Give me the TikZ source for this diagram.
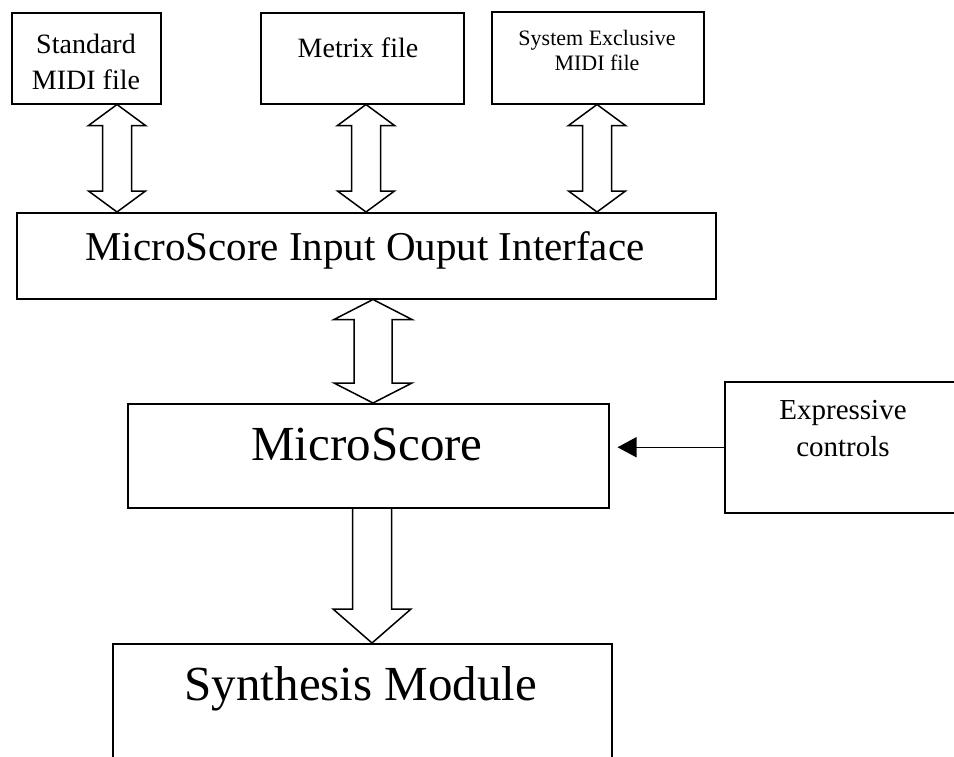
\documentclass[tikz,border=0pt]{standalone}
\usepackage{fontspec}
\setmainfont{Liberation Serif}
\usetikzlibrary{calc,arrows.meta}

% hollow two-headed block arrow between the bottom of #1 and the top of #2
% #3 x position, #4 head half width, #5 shaft half width, #6 head length
\newcommand\dblarrow[6]{%
  \draw[hollow] let \p1=(#3,0 |- #1.south), \p2=(#3,0 |- #2.north) in
    (\x1,\y1) -- ($(\x1,\y1)+(#4,#6)$) -- ($(\x1,\y1)+(#5,#6)$)
    -- ($(\x2,\y2)+(#5,-#6)$) -- ($(\x2,\y2)+(#4,-#6)$) -- (\x2,\y2)
    -- ($(\x2,\y2)+(-#4,-#6)$) -- ($(\x2,\y2)+(-#5,-#6)$)
    -- ($(\x1,\y1)+(-#5,#6)$) -- ($(\x1,\y1)+(-#4,#6)$) -- cycle;}

\begin{document}
\begin{tikzpicture}[x=1pt,y=-1pt,
  box/.style={draw, line width=1.5pt, inner sep=0pt, anchor=north west},
  lbl/.style={anchor=base, inner sep=0pt},
  hollow/.style={draw, line width=1.5pt, line join=miter}]
\useasboundingbox (0,0) rectangle (954,756);
\clip (0,0) rectangle (954,756);

% file boxes
\node[box, minimum width=149pt, minimum height=91pt] (std) at (11,12) {};
\node[box, minimum width=203pt, minimum height=91pt] (met) at (260,12) {};
\node[box, minimum width=212pt, minimum height=92pt] (sysx) at (491,11) {};
% interface, core and synthesis boxes
\node[box, minimum width=699pt, minimum height=86pt] (io) at (16,212) {};
\node[box, minimum width=481pt, minimum height=104pt] (ms) at (127,403) {};
\node[box, minimum width=240pt, minimum height=131pt] (exp) at (724,381) {};
\node[box, minimum width=499pt, minimum height=140pt] (syn) at (112,643) {};

% labels
\node[lbl, font=\fontsize{28}{33}\selectfont] (stdA) at (86,53) {Standard};
\node[lbl, font=\fontsize{28}{33}\selectfont] (stdB) at (86,89) {MIDI file};
\node[lbl, font=\fontsize{28}{33}\selectfont] (metA) at (358,57) {Metrix file};
\node[lbl, font=\fontsize{22}{26}\selectfont] (sysA) at (597,45) {System Exclusive};
\node[lbl, font=\fontsize{22}{26}\selectfont] (sysB) at (597,70) {MIDI file};
\node[lbl, font=\fontsize{41}{48}\selectfont] (ioA) at (365,260) {MicroScore Input Ouput Interface};
\node[lbl, font=\fontsize{49}{58}\selectfont] (msA) at (367,460) {MicroScore};
\node[lbl, font=\fontsize{29}{34}\selectfont] (expA) at (843,419) {Expressive};
\node[lbl, font=\fontsize{29}{34}\selectfont] (expB) at (843,456) {controls};
\node[lbl, font=\fontsize{49}{58}\selectfont] (synA) at (361,700) {Synthesis Module};

% two-way block arrows
\dblarrow{std}{io}{117}{28.5}{14.5}{21}
\dblarrow{met}{io}{366}{28.5}{14.5}{21}
\dblarrow{sysx}{io}{597}{28.5}{14.5}{21}
\dblarrow{io}{ms}{373}{39}{19}{20}

% one-way block arrow into the synthesis module
\draw[hollow] let \p1=(372,0 |- ms.south), \p2=(372,0 |- syn.north) in
  ($(\x1,\y1)+(-19.5,0)$) -- ($(\x2,\y2)+(-19.5,-34)$) -- ($(\x2,\y2)+(-39,-34)$)
  -- (\x2,\y2) -- ($(\x2,\y2)+(39,-34)$) -- ($(\x2,\y2)+(19.5,-34)$)
  -- ($(\x1,\y1)+(19.5,0)$);

% control input
\draw[line width=1.5pt, -{Triangle[length=19pt,width=20pt]}, shorten >=8pt]
  (exp.west) -- (exp.west -| ms.east);
\end{tikzpicture}
\end{document}
